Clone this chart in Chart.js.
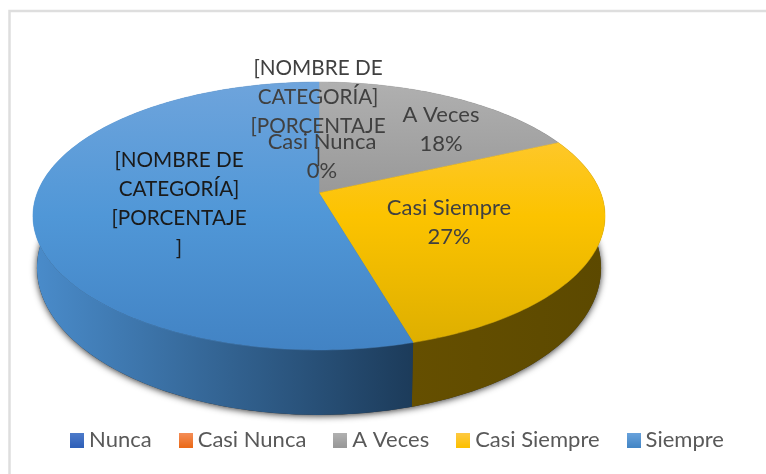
<!DOCTYPE html>
<html lang="es">
<head>
<meta charset="utf-8">
<title>Pie 3D</title>
<script src="https://cdn.jsdelivr.net/npm/chart.js@4"></script>
<style>
html,body{margin:0;padding:0;background:#fff;}
canvas{display:block;}
</style>
</head>
<body>
<canvas id="c" width="766" height="474"></canvas>
<script>
const categories = ['Nunca', 'Casi Nunca', 'A Veces', 'Casi Siempre', 'Siempre'];
const seriesValues = [0, 0, 18.2, 27.3, 54.5];
const baseColors = ['#4472c4', '#ed7d31', '#a5a5a5', '#ffc000', '#5b9bd5'];

const FONT = 'Lato, "Open Sans", sans-serif';
const TEXT_SIZE = 22;

// top-face gradient stops, per slice
const faceStops = [
  ['#5a85d0', '#3d6bbd', '#335ea8'],
  ['#f59058', '#ed7020', '#d5651c'],
  ['#b0b0b0', '#949494', '#858585'],
  ['#ffcb4a', '#fcc300', '#dcae00'],
  ['#6ea4dc', '#5097d7', '#4283c4']
];
// side-face gradient, left to right
const sideStops = [
  ['#2f5597', '#1c335c'],
  ['#8c4a1d', '#5c3012'],
  ['#666666', '#444444'],
  ['#654f00', '#5c4900'],
  ['#4a8ccb', '#1c3b5a']
];
const legendStops = [
  ['#4f7ccb', '#2f60b8'],
  ['#f58f5a', '#eb6a18'],
  ['#b2b2b2', '#989898'],
  ['#ffca45', '#fcc000'],
  ['#6aa3dd', '#4385c5']
];

// Free-floating data labels: lines, centre x, first line middle y, colour, size
const labelLayout = [
  { lines: () => ['[NOMBRE DE', 'CATEGORÍA]', '[PORCENTAJE', ']'], x: 318, y: 68, color: '#404040', size: 20.7 },
  { lines: () => [categories[1], pct(1)], x: 322, y: 142, color: '#404040', size: TEXT_SIZE },
  { lines: () => [categories[2], pct(2)], x: 441, y: 115, color: '#404040', size: TEXT_SIZE },
  { lines: () => [categories[3], pct(3)], x: 449, y: 208, color: '#404040', size: TEXT_SIZE },
  { lines: () => ['[NOMBRE DE', 'CATEGORÍA]', '[PORCENTAJE', ']'], x: 179, y: 160, color: '#1a1a1a', size: 20.7 }
];
const LINE_H = 29.3;

function pct(i) {
  const total = seriesValues.reduce((a, b) => a + b, 0);
  return Math.round(seriesValues[i] / total * 100) + '%';
}

// Perspective projection of the pie disc on the page
const VIEW = { cx: 319, apexY: 193, R: 281.8, c: -0.1716, a: 96.9 };
function projectTop(theta) {
  const u = Math.sin(theta), v = -Math.cos(theta);
  const d = 1 + VIEW.c * v;
  return { x: VIEW.cx + VIEW.R * u / d, y: (VIEW.apexY + VIEW.a * v) / d };
}
function projectBottom(theta) {
  const p = projectTop(theta);
  return { x: VIEW.cx + (p.x - VIEW.cx) * 0.986, y: p.y * 1.097 + 31 };
}
function arcPoints(fn, a, b) {
  const n = Math.max(2, Math.ceil((b - a) / (Math.PI / 180)));
  const pts = [];
  for (let i = 0; i <= n; i++) pts.push(fn(a + (b - a) * i / n));
  return pts;
}

function legendSwatch(i) {
  const cv = document.createElement('canvas');
  cv.width = 14; cv.height = 15;
  const g = cv.getContext('2d');
  const gr = g.createLinearGradient(0, 0, 0, 15);
  gr.addColorStop(0, legendStops[i][0]);
  gr.addColorStop(1, legendStops[i][1]);
  g.fillStyle = gr;
  g.fillRect(0, 0, 14, 15);
  return cv;
}

const pie3d = {
  id: 'pie3d',
  beforeDraw(chart) {
    const ctx = chart.ctx;
    ctx.save();
    ctx.fillStyle = '#ffffff';
    ctx.fillRect(0, 0, chart.width, chart.height);
    ctx.strokeStyle = '#dedede';
    ctx.lineWidth = 2.5;
    ctx.beginPath();
    ctx.moveTo(chart.width, 11);
    ctx.lineTo(9.5, 11);
    ctx.lineTo(9.5, chart.height);
    ctx.stroke();
    ctx.restore();
  },
  beforeDatasetsDraw(chart) {
    const ctx = chart.ctx;
    const arcs = chart.getDatasetMeta(0).data;
    const rot = Math.PI / 2;
    ctx.save();

    // drop shadow of the solid
    const full = arcPoints(projectBottom, 0, Math.PI * 2);
    ctx.save();
    ctx.shadowColor = 'rgba(0,0,0,0.8)';
    ctx.shadowBlur = 7;
    ctx.shadowOffsetY = 1;
    ctx.fillStyle = '#333';
    ctx.beginPath();
    full.forEach((p, i) => i ? ctx.lineTo(p.x, p.y) : ctx.moveTo(p.x, p.y));
    ctx.closePath();
    ctx.fill();
    ctx.restore();

    // side walls
    arcs.forEach((el, i) => {
      const a = el.startAngle + rot, b = el.endAngle + rot;
      if (b - a < 1e-4) return;
      const top = arcPoints(projectTop, a, b);
      const bot = arcPoints(projectBottom, a, b);
      const xs = top.concat(bot).map(p => p.x);
      const g = ctx.createLinearGradient(Math.min(...xs), 0, Math.max(...xs), 0);
      g.addColorStop(0, sideStops[i][0]);
      g.addColorStop(1, sideStops[i][1]);
      ctx.fillStyle = g;
      ctx.beginPath();
      top.forEach((p, k) => k ? ctx.lineTo(p.x, p.y) : ctx.moveTo(p.x, p.y));
      bot.reverse().forEach(p => ctx.lineTo(p.x, p.y));
      ctx.closePath();
      ctx.fill();
    });

    // top face
    arcs.forEach((el, i) => {
      const a = el.startAngle + rot, b = el.endAngle + rot;
      if (b - a < 1e-4) return;
      const g = ctx.createLinearGradient(0, 82, 0, 350);
      g.addColorStop(0, faceStops[i][0]);
      g.addColorStop(0.5, faceStops[i][1]);
      g.addColorStop(1, faceStops[i][2]);
      ctx.fillStyle = g;
      ctx.strokeStyle = g;
      ctx.lineWidth = 0.5;
      ctx.beginPath();
      ctx.moveTo(VIEW.cx, VIEW.apexY);
      arcPoints(projectTop, a, b).forEach(p => ctx.lineTo(p.x, p.y));
      ctx.closePath();
      ctx.fill();
      ctx.stroke();
    });

    // data labels
    ctx.textAlign = 'center';
    ctx.textBaseline = 'middle';
    labelLayout.forEach(l => {
      ctx.font = l.size + 'px ' + FONT;
      ctx.fillStyle = l.color;
      l.lines().forEach((t, k) => ctx.fillText(t, l.x, l.y + k * LINE_H));
    });
    ctx.restore();
    return false;
  }
};

new Chart(document.getElementById('c'), {
  type: 'pie',
  data: {
    labels: categories,
    datasets: [{ data: seriesValues, backgroundColor: baseColors, borderWidth: 0 }]
  },
  plugins: [pie3d],
  options: {
    responsive: false,
    animation: false,
    events: [],
    layout: { padding: { left: 34, right: 0, top: 0, bottom: 13 } },
    plugins: {
      tooltip: { enabled: false },
      legend: {
        position: 'bottom',
        labels: {
          color: '#595959',
          font: { family: FONT, size: TEXT_SIZE },
          usePointStyle: true,
          pointStyleWidth: 2,
          padding: 33,
          generateLabels: () => categories.map((t, i) => ({
            text: t,
            fillStyle: baseColors[i],
            strokeStyle: baseColors[i],
            lineWidth: 0,
            fontColor: '#595959',
            pointStyle: legendSwatch(i),
            index: i,
            hidden: false
          }))
        }
      }
    }
  }
});
</script>
</body>
</html>
